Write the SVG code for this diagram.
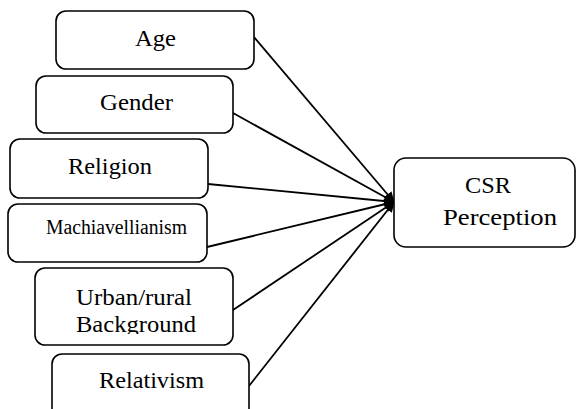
<svg xmlns="http://www.w3.org/2000/svg" width="576" height="409" viewBox="0 0 576 409">
<style>
.box{fill:#fff;stroke:#000;stroke-width:1.6}
.t{font-family:'Liberation Serif','Times New Roman',serif;font-size:24px;fill:#000;text-anchor:middle}
.c{stroke:#000;stroke-width:1.8;fill:none;marker-end:url(#ah)}
</style>
<defs>
<marker id="ah" viewBox="0 0 10 10" refX="9" refY="5" markerWidth="11" markerHeight="10" markerUnits="userSpaceOnUse" orient="auto" preserveAspectRatio="none">
<path d="M0,0 L10,5 L0,10 z" fill="#000"/>
</marker>
<clipPath id="ucl"><rect x="35" y="268" width="198" height="66"/></clipPath>
</defs>
<g id="connectors">
<line class="c" x1="254" y1="37" x2="394" y2="202"/>
<line class="c" x1="233" y1="113" x2="394" y2="202"/>
<line class="c" x1="208" y1="184" x2="394" y2="202"/>
<line class="c" x1="207" y1="247" x2="394" y2="202"/>
<line class="c" x1="233" y1="310" x2="394" y2="202"/>
<line class="c" x1="249" y1="386" x2="394" y2="202"/>
</g>
<g id="age">
<rect class="box" x="56" y="11" width="198" height="58" rx="10"/>
<text class="t" x="155.5" y="46" textLength="41" lengthAdjust="spacingAndGlyphs">Age</text>
</g>
<g id="gender">
<rect class="box" x="36" y="76" width="197" height="57" rx="10"/>
<text class="t" x="136.5" y="110" textLength="73" lengthAdjust="spacingAndGlyphs">Gender</text>
</g>
<g id="religion">
<rect class="box" x="10" y="139" width="198" height="59" rx="10"/>
<text class="t" x="110" y="174" textLength="84" lengthAdjust="spacingAndGlyphs">Religion</text>
</g>
<g id="machiavellianism">
<rect class="box" x="8" y="204" width="199" height="58" rx="10"/>
<text class="t" x="116.5" y="234" style="font-size:20px" textLength="141" lengthAdjust="spacingAndGlyphs">Machiavellianism</text>
</g>
<g id="urban">
<rect class="box" x="35" y="268" width="198" height="77" rx="10"/>
<g clip-path="url(#ucl)">
<text class="t" x="134" y="305" textLength="116" lengthAdjust="spacingAndGlyphs">Urban/rural</text>
<text class="t" x="136" y="332" textLength="120" lengthAdjust="spacingAndGlyphs">Background</text>
</g>
</g>
<g id="relativism">
<rect class="box" x="52" y="354" width="197" height="70" rx="10"/>
<text class="t" x="151.5" y="388" textLength="105" lengthAdjust="spacingAndGlyphs">Relativism</text>
</g>
<g id="csr">
<rect class="box" x="394" y="158" width="181" height="89" rx="12"/>
<text class="t" x="488" y="193" textLength="46" lengthAdjust="spacingAndGlyphs">CSR</text>
<text class="t" x="500" y="225" textLength="114" lengthAdjust="spacingAndGlyphs">Perception</text>
</g>
</svg>
